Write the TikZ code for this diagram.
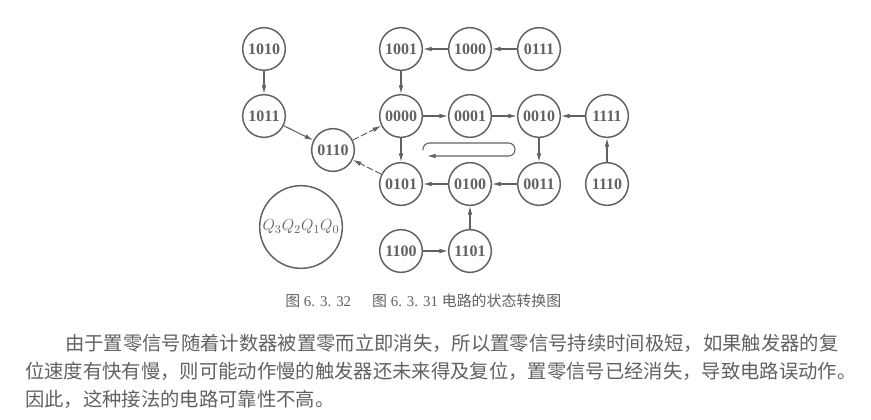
\documentclass[tikz,border=0pt]{standalone}
\usepackage{fontspec}
\setmainfont{Liberation Serif}
\newfontfamily\cjk{Noto Sans CJK SC}
\usetikzlibrary{positioning,arrows.meta}

\definecolor{inkgray}{gray}{0.38}

\tikzset{
  state/.style={circle, draw=inkgray, line width=1.1pt, minimum size=32pt, inner sep=0pt,
    text=inkgray, font=\fontsize{12}{14}\selectfont\bfseries},
  trans/.style={draw=inkgray, line width=0.8pt, -{Latex[length=6.5pt,width=3.5pt]}},
  reset/.style={trans, dash pattern=on 5pt off 2pt},
  textline/.style={anchor=west, inner sep=0pt, text=inkgray,
    font=\cjk\fontsize{14.5}{16}\selectfont},
}

\begin{document}
\begin{tikzpicture}[x=0.75pt, y=-0.75pt]
		\useasboundingbox (0,0) rectangle (871,419);

		% states, in rows and columns
		\node[state] (s1010) at (264,49)  {1010};
		\node[state] (s1011) at (264,116) {1011};
		\node[state] (s0110) at (333,150) {0110};
		\node[state] (s1001) at (401,49)  {1001};
		\node[state] (s1000) at (470,49)  {1000};
		\node[state] (s0111) at (539,49)  {0111};
		\node[state] (s0000) at (401,116) {0000};
		\node[state] (s0001) at (470,116) {0001};
		\node[state] (s0010) at (539,116) {0010};
		\node[state] (s1111) at (607,116) {1111};
		\node[state] (s0101) at (401,184) {0101};
		\node[state] (s0100) at (470,184) {0100};
		\node[state] (s0011) at (539,184) {0011};
		\node[state] (s1110) at (607,184) {1110};
		\node[state] (s1100) at (401,251) {1100};
		\node[state] (s1101) at (470,251) {1101};

		% legend circle
		\node[circle, draw=inkgray, line width=1.1pt, minimum size=62pt, inner sep=0pt,
			text=inkgray, font=\fontsize{12.5}{14}\selectfont] (legend) at (301,227) {$Q_3Q_2Q_1Q_0$};

		% transitions
		\draw[trans] (s1010) -- (s1011);
		\draw[trans] (s1011) -- (s0110);
		\draw[reset] (s0110) -- (s0000);
		\draw[reset] (s0101) -- (s0110);
		\draw[trans] (s0111) -- (s1000);
		\draw[trans] (s1000) -- (s1001);
		\draw[trans] (s1001) -- (s0000);
		\draw[trans] (s0000) -- (s0001);
		\draw[trans] (s0001) -- (s0010);
		\draw[trans] (s1111) -- (s0010);
		\draw[trans] (s0010) -- (s0011);
		\draw[trans] (s0011) -- (s0100);
		\draw[trans] (s0100) -- (s0101);
		\draw[trans] (s0000) -- (s0101);
		\draw[trans] (s1110) -- (s1111);
		\draw[trans] (s1100) -- (s1101);
		\draw[trans] (s1101) -- (s0100);

		% counting direction
		\coordinate (loopA) at (423,150);
		\coordinate (loopB) at (515,143);
		\coordinate (loopC) at (427,156);
		\draw[trans, rounded corners=4.8pt] (loopA) |- (loopB) |- (loopC);

		% caption
		\node[anchor=west, inner sep=0pt, text=inkgray, font=\fontsize{11.2}{13}\selectfont] (caption) at (285,301)
			{{\cjk 图} 6. 3. 32\hspace{1.4em}{\cjk 图} 6. 3. 31 {\cjk 电路的状态转换图}};

		% text below
		\node[textline] (line1) at (65,343) {由于置零信号随着计数器被置零而立即消失，所以置零信号持续时间极短，如果触发器的复};
		\node[textline] (line2) at (25,371) {位速度有快有慢，则可能动作慢的触发器还未来得及复位，置零信号已经消失，导致电路误动作。};
		\node[textline] (line3) at (25,399) {因此，这种接法的电路可靠性不高。};
	\end{tikzpicture}
\end{document}
